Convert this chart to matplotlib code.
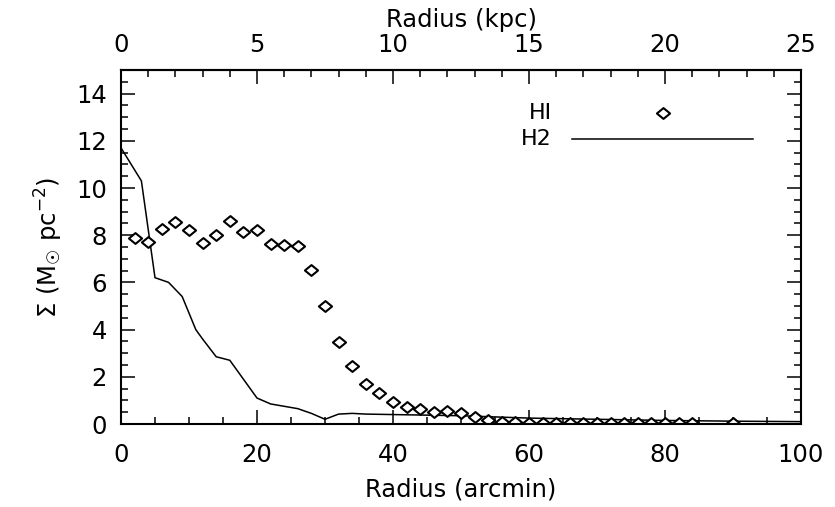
import matplotlib
matplotlib.use("Agg")
import matplotlib.pyplot as plt
from matplotlib.ticker import FixedLocator
from matplotlib.path import Path

plt.rcParams['font.family'] = ['DejaVu Sans']
plt.rcParams['mathtext.fontset'] = 'dejavusans'

# HI surface density (diamonds)
hi_r = [2, 4, 6, 8, 10, 12, 14, 16, 18, 20, 22, 24, 26, 28, 30, 32, 34, 36, 38, 40,
        42, 44, 46, 48, 50, 52, 54, 56, 58, 60, 62, 64, 66, 68, 70, 72, 74, 76, 78,
        80, 82, 84, 90]
hi_s = [7.9, 7.72, 8.26, 8.55, 8.22, 7.66, 8.0, 8.61, 8.15, 8.2, 7.61, 7.57, 7.54,
        6.53, 4.98, 3.47, 2.47, 1.69, 1.30, 0.95, 0.71, 0.62, 0.49, 0.56, 0.45, 0.31,
        0.17, 0.10, 0.08, 0.06, 0.06, 0.05, 0.06, 0.05, 0.05, 0.06, 0.05, 0.06, 0.05,
        0.06, 0.06, 0.05, 0.04]

# H2 surface density (line)
h2_r = [0, 3, 5, 7, 9, 11, 12, 14, 16, 18, 20, 22, 24, 26, 28, 30, 32, 34, 36, 40,
        50, 60, 70, 80, 90, 100]
h2_s = [11.7, 10.3, 6.2, 6.0, 5.4, 4.0, 3.6, 2.85, 2.7, 1.9, 1.1, 0.85, 0.75, 0.65,
        0.45, 0.2, 0.42, 0.45, 0.42, 0.4, 0.35, 0.25, 0.2, 0.15, 0.12, 0.1]

# tick positions
x_major = [0, 20, 40, 60, 80, 100]
x_minor = [v for v in range(0, 101, 5)]
y_major = [0, 2, 4, 6, 8, 10, 12, 14]
y_minor = [v * 0.5 for v in range(0, 31)]
kpc_major = [0, 5, 10, 15, 20, 25]
kpc_minor = list(range(0, 26))

diamond = Path([(-1, 0), (0, 0.82), (1, 0), (0, -0.82), (-1, 0)],
               [Path.MOVETO, Path.LINETO, Path.LINETO, Path.LINETO, Path.CLOSEPOLY])

fig = plt.figure(figsize=(8.35, 5.07), dpi=100)
ax = fig.add_axes([121 / 835, 1 - 424 / 507, 680 / 835, 354 / 507])

ax.plot(h2_r, h2_s, color='black', lw=1.1)
ax.plot(hi_r, hi_s, linestyle='none', marker=diamond, ms=9.5, mfc='white',
        mec='black', mew=1.5)

ax.set_xlim(0, 100)
ax.set_ylim(0, 15)
ax.xaxis.set_major_locator(FixedLocator(x_major))
ax.xaxis.set_minor_locator(FixedLocator(x_minor))
ax.yaxis.set_major_locator(FixedLocator(y_major))
ax.yaxis.set_minor_locator(FixedLocator(y_minor))

for s in ax.spines.values():
    s.set_linewidth(1.5)

ax.tick_params(which='both', direction='in', top=False, right=True, width=1.1,
               labelsize=17.5)
ax.tick_params(which='major', length=10)
ax.tick_params(which='minor', length=5)
ax.tick_params(axis='x', which='major', pad=14)
ax.tick_params(axis='y', which='major', pad=10)

ax.set_xlabel('Radius (arcmin)', fontsize=17.5, labelpad=7)
ax.set_ylabel('Σ (M$_{☉}$ pc$^{-2}$)', fontsize=17.5, labelpad=8)

sec = ax.secondary_xaxis('top', functions=(lambda x: x / 4.0, lambda x: x * 4.0))
sec.xaxis.set_major_locator(FixedLocator(kpc_major))
sec.xaxis.set_minor_locator(FixedLocator(kpc_minor))
sec.tick_params(which='both', direction='in', width=1.1, labelsize=17.5)
sec.tick_params(which='major', length=10, pad=9)
sec.tick_params(which='minor', length=5)
sec.spines['top'].set_linewidth(1.5)
sec.set_xlabel('Radius (kpc)', fontsize=17.5, labelpad=5)

# legend
ax.text(0.634, 0.879, 'HI', transform=ax.transAxes, ha='right', va='center', fontsize=16)
ax.plot([0.797], [0.879], transform=ax.transAxes, linestyle='none', marker=diamond,
        ms=9.5, mfc='white', mec='black', mew=1.5, clip_on=False)
ax.text(0.634, 0.806, 'H2', transform=ax.transAxes, ha='right', va='center', fontsize=16)
ax.plot([0.663, 0.929], [0.806, 0.806], transform=ax.transAxes, color='black', lw=1.1)

fig.savefig('out.png', dpi=100)
